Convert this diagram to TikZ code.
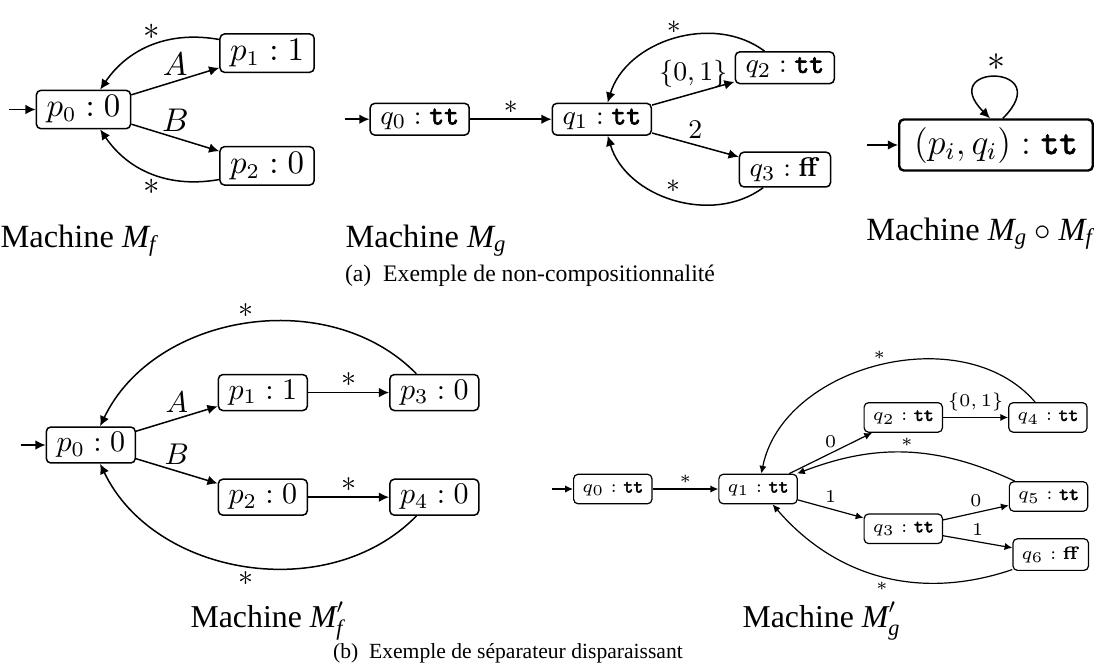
\documentclass[tikz,border=0pt]{standalone}
\usepackage{amsmath}
\usepackage[no-math]{fontspec}
\usetikzlibrary{positioning,arrows.meta}
\newfontfamily\capfont{Liberation Serif}
\newfontfamily\ttbold{lmmono10-regular.otf}[FakeBold=2.5]
\newcommand{\ttval}{\text{\ttbold tt}}
\newcommand{\ffval}{\mathbf{ff}}

\begin{document}
\begin{tikzpicture}[
  x=0.33333pt,y=-0.33333pt,
  every node/.style={inner sep=1.8pt},
  etat/.style={rectangle,rounded corners=1.5pt,draw,inner xsep=3.4pt,inner ysep=1.8pt,line width=0.5pt},
  trans/.style={-{Latex[length=3.4pt,width=3.2pt]},line width=0.5pt},
  legende/.style={inner sep=0pt,font=\capfont\fontsize{10.8}{13}\selectfont},
  soustitre/.style={inner sep=0pt,font=\capfont\fontsize{7.9}{9}\selectfont}
]
\useasboundingbox (0,0) rectangle (1094,666);

% Machine M_f
\begin{scope}[font=\fontsize{10.7}{13}\selectfont]
\node[etat] (fp0) at (83.5,109.5) {$p_0 : 0$};
\node[etat,above right=5.5pt and 29.3pt of fp0] (fp1) {$p_1 : 1$};
\node[etat,below right=5.5pt and 29.3pt of fp0] (fp2) {$p_2 : 0$};
\coordinate[left=9pt of fp0] (fin);
\draw[trans] (fin) -- (fp0);
\draw[trans] (fp0) -- node[above] {$A$} (fp1);
\draw[trans] (fp0) -- node[above] {$B$} (fp2);
\draw[trans] (fp1) to[bend right=33] node[above] {$*$} (fp0);
\draw[trans] (fp2) to[bend left=33] node[below] {$*$} (fp0);
\end{scope}

% Machine M_g
\begin{scope}[font=\fontsize{9.4}{11}\selectfont]
\node[etat] (gq0) at (419.7,119.2) {$q_0 : \ttval$};
\node[etat,right=27.2pt of gq0] (gq1) {$q_1 : \ttval$};
\node[etat,above right=6.1pt and 27.5pt of gq1] (gq2) {$q_2 : \ttval$};
\node[etat,below right=5.2pt and 28.9pt of gq1] (gq3) {$q_3 : \ffval$};
\coordinate[left=8.3pt of gq0] (gin);
\draw[trans] (gin) -- (gq0);
\draw[trans] (gq0) -- node[above] {$*$} (gq1);
\draw[trans] (gq1) -- node[above] {$\{0,1\}$} (gq2);
\draw[trans] (gq1) -- node[above] {$2$} (gq3);
\draw[trans] (gq2) to[bend right=55] node[above] {$*$} (gq1);
\draw[trans] (gq3) to[bend left=55] node[above] {$*$} (gq1);
\end{scope}

% Machine M_g o M_f
\begin{scope}[font=\fontsize{11.7}{14}\selectfont]
\node[etat,inner xsep=5pt,inner ysep=2.5pt,line width=0.8pt] (gfq) at (996,145) {$(p_i,q_i) : \ttval$};
\coordinate[left=10.3pt of gfq] (gfin);
\draw[trans] (gfin) -- (gfq);
\draw[trans] ([xshift=2.3pt]gfq.north) .. controls +(45:26pt) and +(135:26pt) .. node[above] {$*$} ([xshift=-2pt]gfq.north);
\end{scope}

% Machine M'_f
\begin{scope}[font=\fontsize{10}{12}\selectfont]
\node[etat] (Fp0) at (90.8,445) {$p_0 : 0$};
\node[etat,above right=5pt and 27.2pt of Fp0] (Fp1) {$p_1 : 1$};
\node[etat,below right=4.9pt and 27.2pt of Fp0] (Fp2) {$p_2 : 0$};
\node[etat,right=27pt of Fp1] (Fp3) {$p_3 : 0$};
\node[etat,right=27pt of Fp2] (Fp4) {$p_4 : 0$};
\coordinate[left=8.3pt of Fp0] (Fin);
\draw[trans] (Fin) -- (Fp0);
\draw[trans] (Fp0) -- node[above] {$A$} (Fp1);
\draw[trans] (Fp0) -- node[above] {$B$} (Fp2);
\draw[trans] (Fp1) -- node[above] {$*$} (Fp3);
\draw[trans] (Fp2) -- node[above] {$*$} (Fp4);
\draw[trans] (Fp3) to[bend right=55] node[above] {$*$} (Fp0);
\draw[trans] (Fp4) to[bend left=55] node[below] {$*$} (Fp0);
\end{scope}

% Machine M'_g
\begin{scope}[font=\fontsize{6.3}{7.5}\selectfont,
  etat/.append style={inner xsep=2.9pt,inner ysep=2.6pt,line width=0.4pt},
  trans/.append style={-{Latex[length=2.6pt,width=2.4pt]},line width=0.4pt}]
\node[etat] (Gq0) at (612.8,489) {$q_0 : \ttval$};
\node[etat,right=21.9pt of Gq0] (Gq1) {$q_1 : \ttval$};
\node[etat,above right=13.6pt and 21.9pt of Gq1] (Gq2) {$q_2 : \ttval$};
\node[etat,below right=3pt and 21.9pt of Gq1] (Gq3) {$q_3 : \ttval$};
\node[etat,right=21.7pt of Gq2] (Gq4) {$q_4 : \ttval$};
\node[etat,above right=0.5pt and 21.9pt of Gq3] (Gq5) {$q_5 : \ttval$};
\node[etat,below right=-2pt and 23.1pt of Gq3] (Gq6) {$q_6 : \ffval$};
\coordinate[left=7.1pt of Gq0] (Gin);
\draw[trans] (Gin) -- (Gq0);
\draw[trans] (Gq0) -- node[above] {$*$} (Gq1);
\draw[trans] (Gq1) -- node[above] {$0$} (Gq2);
\draw[trans] (Gq1) -- node[above] {$1$} (Gq3);
\draw[trans] (Gq2) -- node[above] {$\{0,1\}$} (Gq4);
\draw[trans] (Gq3) -- node[above] {$0$} (Gq5);
\draw[trans] (Gq3) -- node[above] {$1$} (Gq6);
\draw[trans] (Gq4) to[bend right=64] node[above] {$*$} (Gq1);
\draw[trans] (Gq5) to[bend right=23] node[above] {$*$} (Gq1);
\draw[trans] (Gq6) to[bend left=34] node[below] {$*$} (Gq1);
\end{scope}

% legendes
\node[legende,anchor=base west] (capf) at (0,247) {Machine $\textit{M}_{\textit{f}}$};
\node[legende,anchor=base west] (capg) at (345,247) {Machine $\textit{M}_{\textit{g}}$};
\node[legende,anchor=base east] (capgf) at (1094,240) {Machine $\textit{M}_{\textit{g}}\circ\textit{M}_{\textit{f}}$};
\node[soustitre,anchor=base] (capa) at (530,281) {(a)\enspace Exemple de non-compositionnalité};
\node[legende,font=\capfont\fontsize{10.6}{13}\selectfont,anchor=base west] (capFp) at (190,627) {Machine $\textit{M}'_{\textit{f}}$};
\node[legende,font=\capfont\fontsize{10.6}{13}\selectfont,anchor=base west] (capGp) at (742,627) {Machine $\textit{M}'_{\textit{g}}$};
\node[soustitre,font=\capfont\fontsize{7.2}{9}\selectfont,anchor=base] (capb) at (508,658) {(b)\enspace Exemple de séparateur disparaissant};
\end{tikzpicture}
\end{document}
